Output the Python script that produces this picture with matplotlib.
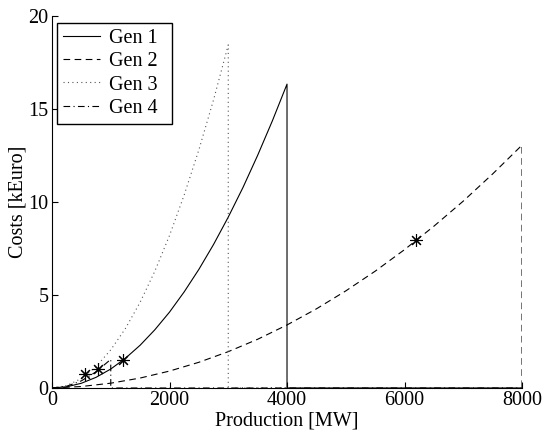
import matplotlib
matplotlib.use("Agg")
import matplotlib.pyplot as plt

plt.rcParams['font.family'] = ['Liberation Serif', 'DejaVu Serif']
plt.rcParams['font.size'] = 14.5

# Gen 1 (solid), capacity 4000 MW
g1_p = [0, 250, 500, 750, 1000, 1250, 1500, 1750, 2000, 2250, 2500, 2750, 3000, 3250, 3500, 3750, 4000, 4000, 8000]
g1_c = [0, 0.064, 0.255, 0.574, 1.02, 1.60, 2.30, 3.13, 4.08, 5.17, 6.38, 7.72, 9.19, 10.78, 12.51, 14.36, 16.34, 0, 0]

# Gen 2 (dashed), capacity 8000 MW
g2_p = [0, 500, 1000, 1500, 2000, 2500, 3000, 3500, 4000, 4500, 5000, 5500, 6000, 6500, 7000, 7500, 8000, 8000]
g2_c = [0, 0.080, 0.259, 0.535, 0.91, 1.383, 1.954, 2.62, 3.39, 4.255, 5.22, 6.28, 7.44, 8.70, 10.05, 11.51, 13.06, 0]

# Gen 3 (dotted), capacity 3000 MW
g3_p = [0, 250, 500, 750, 1000, 1250, 1500, 1750, 2000, 2250, 2500, 2750, 3000, 3000, 8000]
g3_c = [0, 0.128, 0.51, 1.15, 2.05, 3.20, 4.61, 6.28, 8.20, 10.38, 12.81, 15.50, 18.45, 0, 0]

# Gen 4 (dash-dot), capacity 1000 MW
g4_p = [0, 250, 500, 750, 1000, 1000, 8000]
g4_c = [0, 0.096, 0.385, 0.87, 1.54, 0, 0]

# Operating points (asterisks)
op_p = [560, 790, 1200, 6200]
op_c = [0.75, 1.0, 1.52, 7.95]

fig = plt.figure(figsize=(5.44, 4.34), dpi=100)
ax = fig.add_axes([0.0956, 0.106, 0.864, 0.857])

lw = 0.8
ax.plot(g1_p, g1_c, color='black', linestyle='-', linewidth=lw, label='Gen 1')
ax.plot(g2_p, g2_c, color='black', linestyle=(0, (6, 4)), linewidth=lw, label='Gen 2')
ax.plot(g3_p, g3_c, color='#555555', linestyle=(0, (1, 3)), linewidth=lw, label='Gen 3')
ax.plot(g4_p, g4_c, color='black', linestyle=(0, (6, 3, 1, 3)), linewidth=lw, label='Gen 4')
ax.plot(op_p, op_c, linestyle='none', marker=(8, 2, 0), markersize=9,
        markeredgecolor='black', markeredgewidth=0.8, color='black')

ax.set_xlim(0, 8000)
ax.set_ylim(0, 20)
ax.set_xticks([0, 2000, 4000, 6000, 8000])
ax.set_yticks([0, 5, 10, 15, 20])
ax.tick_params(direction='in', length=4, width=0.8, pad=2.5)
ax.spines['top'].set_visible(False)
ax.spines['right'].set_visible(False)
for s in ('left', 'bottom'):
    ax.spines[s].set_linewidth(0.8)

ax.set_xlabel('Production [MW]', labelpad=1)
ax.set_ylabel('Costs [kEuro]', labelpad=1)

leg = ax.legend(loc='upper left', bbox_to_anchor=(0.0106, 0.0, 0.2447, 0.981), mode='expand',
                fancybox=False, framealpha=1, edgecolor='black', handlelength=1.85,
                borderaxespad=0, labelspacing=0.2, borderpad=0.3, handletextpad=0.45)
leg.get_frame().set_linewidth(1.0)

fig.savefig('out.png', dpi=100)
